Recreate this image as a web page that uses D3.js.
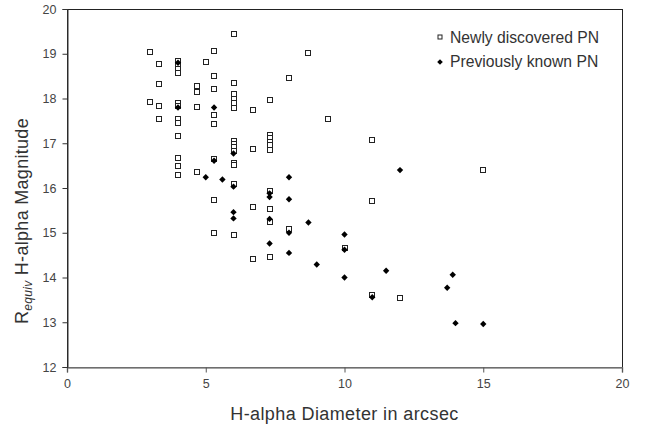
<!DOCTYPE html>
<html>
<head>
<meta charset="utf-8">
<style>
body { margin: 0; background: #fff; }
text { font-family: "Liberation Sans", Arial, sans-serif; }
</style>
</head>
<body>
<div id="chart"></div>
<script src="https://d3js.org/d3.v7.min.js"></script>
<script>
// newly discovered PN: [diameter, magnitude]
var newlyPN = [
  [3.0,19.03],[3.0,17.92],
  [3.3,18.76],[3.3,18.33],[3.3,17.83],[3.3,17.54],
  [4.0,18.84],[4.0,18.74],[4.0,18.65],[4.0,18.58],[4.0,17.90],[4.0,17.84],[4.0,17.54],[4.0,17.45],
  [4.0,17.16],[4.0,16.68],[4.0,16.50],[4.0,16.29],
  [4.7,18.27],[4.7,18.14],[4.7,17.81],[4.7,16.35],
  [5.0,18.82],
  [5.3,19.06],[5.3,18.50],[5.3,18.21],[5.3,17.64],[5.3,17.43],[5.3,16.64],[5.3,15.73],[5.3,15.00],
  [6.0,19.45],[6.0,18.34],[6.0,18.10],[6.0,18.00],[6.0,17.90],[6.0,17.78],[6.0,17.05],[6.0,16.98],
  [6.0,16.91],[6.0,16.83],[6.0,16.56],[6.0,16.51],[6.0,16.10],[6.0,14.94],
  [6.7,17.75],[6.7,16.87],[6.7,15.57],[6.7,14.42],
  [7.3,17.96],[7.3,17.19],[7.3,17.11],[7.3,17.03],[7.3,16.96],[7.3,16.86],[7.3,15.93],[7.3,15.54],
  [7.3,15.25],[7.3,14.46],
  [8.0,18.45],[8.0,15.09],
  [8.7,19.02],
  [9.4,17.54],
  [10.0,14.66],
  [11.0,17.07],[11.0,15.71],[11.0,13.62],
  [12.0,13.55],
  [15.0,16.40]
];

// previously known PN
var knownPN = [
  [4.0,18.80],[4.0,17.80],
  [5.0,16.24],
  [5.3,17.80],[5.3,16.61],
  [5.6,16.19],
  [6.0,16.77],[6.0,16.03],[6.0,15.46],[6.0,15.32],
  [7.3,15.88],[7.3,15.80],[7.3,15.31],[7.3,14.76],
  [8.0,16.24],[8.0,15.75],[8.0,15.00],[8.0,14.55],
  [8.7,15.23],
  [9.0,14.29],
  [10.0,14.96],[10.0,14.62],[10.0,14.00],
  [11.0,13.56],
  [11.5,14.15],
  [12.0,16.40],
  [13.7,13.77],
  [13.9,14.06],
  [14.0,12.98],
  [15.0,12.96]
];

var xTicks = [0, 5, 10, 15, 20];
var yTicks = [12, 13, 14, 15, 16, 17, 18, 19, 20];
var legendLabels = ["Newly discovered PN", "Previously known PN"];

var width = 645, height = 427;
var margin = {left: 67, right: 23, top: 9, bottom: 60};

var svg = d3.select("#chart").append("svg")
  .attr("width", width)
  .attr("height", height);

var x = d3.scaleLinear().domain([0, 20]).range([margin.left, width - margin.right]);
var y = d3.scaleLinear().domain([12, 20]).range([height - margin.bottom, margin.top]);

// plot frame
svg.append("rect")
  .attr("x", x(0) + 0.5)
  .attr("y", y(20) + 0.5)
  .attr("width", x(20) - x(0))
  .attr("height", y(12) - y(20))
  .attr("fill", "none")
  .attr("stroke", "#222");

var xAxis = svg.append("g")
  .attr("transform", "translate(0," + (y(12) + 0.5) + ")")
  .call(d3.axisBottom(x).tickValues(xTicks).tickSize(5).tickPadding(7));
xAxis.select(".domain").attr("stroke", "#888").attr("stroke-width", 1.5);
xAxis.selectAll("line").attr("stroke", "#555");
xAxis.selectAll("text").attr("font-size", 12.5).attr("fill", "#444")
  .style("font-family", "'Liberation Sans', Arial, sans-serif");

var yAxis = svg.append("g")
  .attr("transform", "translate(" + (x(0) + 0.5) + ",0)")
  .call(d3.axisLeft(y).tickValues(yTicks).tickSize(5).tickPadding(6));
yAxis.select(".domain").attr("stroke", "#333");
yAxis.selectAll("line").attr("stroke", "#333");
yAxis.selectAll("text").attr("font-size", 12.5).attr("fill", "#444")
  .style("font-family", "'Liberation Sans', Arial, sans-serif");

// points
svg.append("g").selectAll("rect")
  .data(newlyPN)
  .enter().append("rect")
    .attr("x", function(d) { return Math.round(x(d[0])) - 2.5; })
    .attr("y", function(d) { return Math.round(y(d[1])) - 2.5; })
    .attr("width", 5)
    .attr("height", 5)
    .attr("fill", "#fff")
    .attr("stroke", "#222")
    .attr("stroke-width", 1);

var diamond = d3.symbol().type(d3.symbolDiamond2).size(26);
svg.append("g").selectAll("path")
  .data(knownPN)
  .enter().append("path")
    .attr("d", diamond)
    .attr("transform", function(d) { return "translate(" + x(d[0]) + "," + y(d[1]) + ")"; })
    .attr("fill", "#000");

// legend
var legend = svg.append("g").attr("transform", "translate(440,37)");
legend.append("rect")
  .attr("x", -2).attr("y", -2).attr("width", 4).attr("height", 4)
  .attr("fill", "#fff").attr("stroke", "#222");
legend.append("path")
  .attr("d", d3.symbol().type(d3.symbolDiamond2).size(20))
  .attr("transform", "translate(0,25)")
  .attr("fill", "#000");
legend.selectAll("text")
  .data(legendLabels)
  .enter().append("text")
    .attr("x", 10)
    .attr("y", function(d, i) { return i * 25; })
    .attr("dy", "0.35em")
    .attr("font-size", 15.7)
    .attr("fill", "#333")
    .text(function(d) { return d; });

// axis titles
svg.append("text")
  .attr("x", x(10))
  .attr("y", 420)
  .attr("text-anchor", "middle")
  .attr("font-size", 18)
  .attr("letter-spacing", 0.4)
  .attr("fill", "#333")
  .text("H-alpha Diameter in arcsec");

var yt = svg.append("text")
  .attr("transform", "translate(28,221) rotate(-90)")
  .attr("text-anchor", "middle")
  .attr("font-size", 18)
  .attr("letter-spacing", 0.3)
  .attr("fill", "#333");
yt.append("tspan").text("R");
yt.append("tspan").attr("font-size", 12).attr("font-style", "italic").attr("dy", 4).text("equiv");
yt.append("tspan").attr("dy", -4).text(" H-alpha Magnitude");
</script>
</body>
</html>
